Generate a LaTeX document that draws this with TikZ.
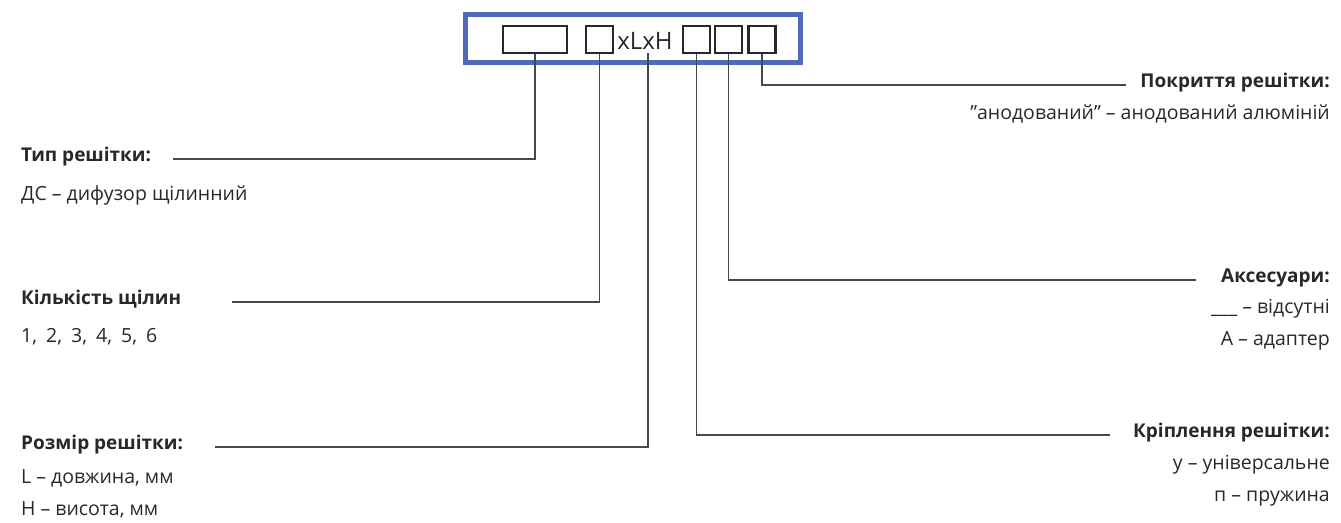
\documentclass[tikz,border=0pt]{standalone}
\usepackage{fontspec}
\setmainfont{Open Sans}
\definecolor{frameblue}{RGB}{80,106,182}
\definecolor{ink}{RGB}{40,40,40}
\begin{document}
\begin{tikzpicture}[x=1pt,y=-1pt,
  slot/.style={draw=ink,line width=2.4pt,minimum height=27pt,inner sep=0pt},
  lead/.style={draw=ink!85,line width=1.3pt},
  head/.style={font=\fontsize{19}{22}\selectfont\bfseries,text=ink,inner sep=0pt},
  body/.style={font=\fontsize{19.5}{22}\selectfont,text=ink,inner sep=0pt}]
\useasboundingbox (0,0) rectangle (1341,522);
\draw[frameblue,line width=5pt,fill=white] (465.5,14.5) rectangle (800.5,62.5);
\node[slot,minimum width=64pt] (b1) at (535,39.5) {};
\node[slot,minimum width=27pt] (b2) at (599.5,39.5) {};
\node[font=\fontsize{24}{28}\selectfont,text=ink,inner sep=0pt,anchor=base] (xlxh) at (645,49) {xLxH};
\node[slot,minimum width=27pt] (b3) at (696.5,39.5) {};
\node[slot,minimum width=27pt] (b4) at (728.5,39.5) {};
\node[slot,minimum width=27pt] (b5) at (762,39.5) {};
% left labels
\node[head,anchor=mid west] (t1) at (21,159) {Тип решітки:};
\node[body,anchor=mid west] (t1a) at (21,198) {ДС – дифузор щілинний};
\node[head,anchor=mid west] (t2) at (21,302) {Кількість щілин};
\node[body,anchor=mid west] (t2a) at (21,340) {1,\hspace{4pt} 2,\hspace{4pt} 3,\hspace{4pt} 4,\hspace{4pt} 5,\hspace{4pt} 6};
\node[head,anchor=mid west] (t3) at (21,447) {Розмір решітки:};
\node[body,anchor=mid west] (t3a) at (21,481) {L – довжина, мм};
\node[body,anchor=mid west] (t3b) at (21,513) {Н – висота, мм};
% right labels
\node[head,anchor=mid east] (r1) at (1330,85) {Покриття решітки:};
\node[body,anchor=mid east] (r1a) at (1330,117) {\symbol{34}анодований\symbol{34} – анодований алюміній};
\node[head,anchor=mid east] (r2) at (1330,280) {Аксесуари:};
\node[body,anchor=mid east] (r2a) at (1330,311) {\_\_\_ – відсутні};
\node[body,anchor=mid east] (r2b) at (1330,343) {А – адаптер};
\node[head,anchor=mid east] (r3) at (1330,435) {Кріплення решітки:};
\node[body,anchor=mid east] (r3a) at (1330,467) {у – універсальне};
\node[body,anchor=mid east] (r3b) at (1330,499) {п – пружина};
% connector ends
\coordinate (e1) at (173,159);
\coordinate (e2) at (232,302);
\coordinate (e3) at (215,447);
\coordinate (e4) at (1110,435);
\coordinate (e5) at (1196,280);
\coordinate (e6) at (1126,85);
\coordinate (s3) at (648,53);
\draw[lead] (b1.south) |- (e1);
\draw[lead] (b2.south) |- (e2);
\draw[lead] (s3) |- (e3);
\draw[lead] (b3.south) |- (e4);
\draw[lead] (b4.south) |- (e5);
\draw[lead] (b5.south) |- (e6);
\end{tikzpicture}
\end{document}
